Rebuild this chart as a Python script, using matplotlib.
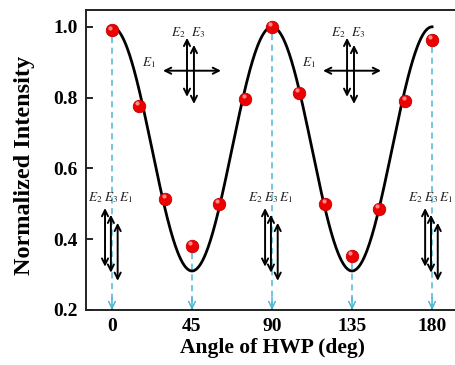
import numpy as np
import matplotlib
matplotlib.use("Agg")
import matplotlib.pyplot as plt

plt.rcParams['font.family'] = ['Liberation Serif', 'DejaVu Serif']
plt.rcParams['mathtext.fontset'] = 'stix'

# measured data
angle = [0, 15, 30, 45, 60, 75, 90, 105, 120, 135, 150, 165, 180]
intensity = [0.99, 0.777, 0.514, 0.381, 0.50, 0.797, 1.0, 0.813, 0.50, 0.353, 0.486, 0.79, 0.963]

# fit I = a + b*cos^2(2*theta)
fit_a = 0.31
fit_b = 0.69

marked = [0, 45, 90, 135, 180]
xticks = [0, 45, 90, 135, 180]
yticks = [0.2, 0.4, 0.6, 0.8, 1.0]

fig = plt.figure(figsize=(4.55, 3.65), dpi=100)
ax = fig.add_axes([0.189, 0.151, 0.82, 0.822])

th = np.linspace(0, 180, 400)
ax.plot(th, fit_a + fit_b * np.cos(np.radians(2 * th)) ** 2, color='black', lw=2, zorder=3)

cyan = '#4fb6d6'
for a in marked:
    v = intensity[angle.index(a)]
    ax.plot([a, a], [v - 0.02, 0.215], color=cyan, lw=1.1, ls=(0, (4, 3)), zorder=1)
    ax.annotate('', xy=(a, 0.2), xytext=(a, 0.235),
                arrowprops=dict(arrowstyle='->', color=cyan, lw=1.1,
                                mutation_scale=12, shrinkA=0, shrinkB=0))

ax.plot(angle, intensity, 'o', color='#ee0000', ms=9, mec='#c00000', mew=0.6, zorder=5)
ax.plot(np.array(angle) - 1.0, np.array(intensity) + 0.008, 'o', color='#ff9a9a',
        ms=3, mec='none', alpha=0.9, zorder=6)


def darrow(x0, y0, x1, y1):
    ax.annotate('', xy=(x1, y1), xytext=(x0, y0),
                arrowprops=dict(arrowstyle='<->', color='black', lw=1.4,
                                mutation_scale=11, shrinkA=0, shrinkB=0),
                zorder=4)


lab = dict(fontsize=9.5, color='#222222', ha='center', va='center')

# crossed polarizations at 45 and 135
for c in [45, 135]:
    darrow(c - 16.3, 0.876, c + 16.3, 0.876)
    darrow(c - 2.8, 0.969, c - 2.8, 0.802)
    darrow(c + 1.1, 0.949, c + 1.1, 0.782)
    ax.text(c - 24.5, 0.90, r'$E_1$', **lab)
    ax.text(c - 7.8, 0.985, r'$E_2$', **lab)
    ax.text(c + 3.5, 0.985, r'$E_3$', **lab)

# parallel polarizations at 0, 90, 180
for c in [0, 90, 180]:
    darrow(c - 3.9, 0.488, c - 3.9, 0.322)
    darrow(c - 0.6, 0.469, c - 0.6, 0.305)
    darrow(c + 3.2, 0.446, c + 3.2, 0.282)
    ax.text(c - 9.6, 0.518, r'$E_2$', **lab)
    ax.text(c - 0.4, 0.518, r'$E_3$', **lab)
    ax.text(c + 7.6, 0.518, r'$E_1$', **lab)

ax.set_xlim(-14.6, 195.2)
ax.set_ylim(0.2, 1.048)
ax.set_xticks(xticks)
ax.set_yticks(yticks)
ax.set_yticklabels(['%.1f' % v for v in yticks])
ax.tick_params(axis='both', direction='in', labelsize=14, width=1.2)
ax.tick_params(axis='y', length=5, pad=6)
ax.tick_params(axis='x', length=3, pad=6)
for t in ax.get_xticklabels() + ax.get_yticklabels():
    t.set_fontweight('bold')
for s in ax.spines.values():
    s.set_linewidth(1.4)
    s.set_color('#222222')

ax.set_xlabel('Angle of HWP (deg)', fontsize=15.5, fontweight='bold', labelpad=2)
ax.set_ylabel('Normalized Intensity', fontsize=17.5, fontweight='bold')
ax.yaxis.set_label_coords(-0.137, 0.48)

fig.savefig('out.png', dpi=100)
